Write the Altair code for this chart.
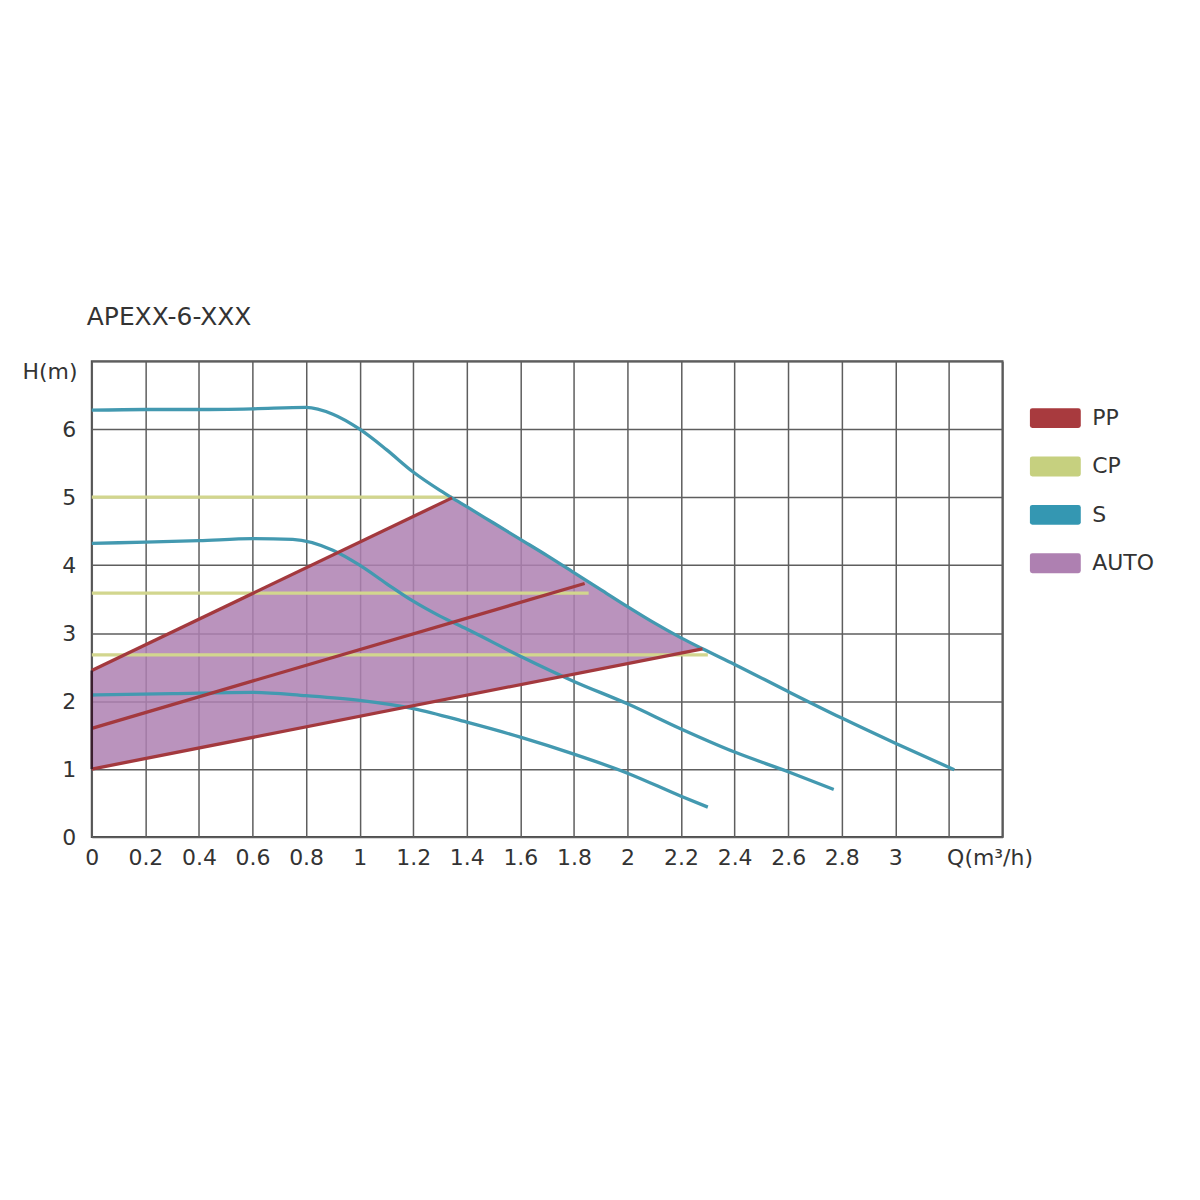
import altair as alt
import pandas as pd

TITLE = "APEXX-6-XXX"
TYPES = ["PP", "CP", "S", "AUTO"]
LINE_COLORS = ["#a3393e", "#d2d68e", "#4399b0", "#b48ab5"]
LEGEND_COLORS = ["#a83a3e", "#c6d07f", "#3497b2", "#ae80b1"]

# S (speed) curves
s_top_q = [0, 0.2, 0.4, 0.6, 0.8, 0.9, 1.0, 1.1, 1.2, 1.3, 1.345, 1.4, 1.5, 1.6, 1.7, 1.8, 1.9,
           2.0, 2.1, 2.2, 2.28, 2.4, 2.6, 2.8, 3.0, 3.22]
s_top_h = [6.28, 6.29, 6.29, 6.30, 6.32, 6.22, 6.0, 5.7, 5.37, 5.1, 4.99, 4.86, 4.62, 4.38, 4.14,
           3.89, 3.64, 3.39, 3.15, 2.93, 2.77, 2.54, 2.14, 1.75, 1.38, 0.99]
s_mid_q = [0, 0.2, 0.4, 0.6, 0.75, 0.9, 1.0, 1.1, 1.2, 1.3, 1.4, 1.6, 1.8, 2.0, 2.2, 2.4, 2.6, 2.77]
s_mid_h = [4.32, 4.34, 4.36, 4.39, 4.38, 4.22, 4.0, 3.73, 3.47, 3.25, 3.06, 2.66, 2.29, 1.96,
           1.59, 1.25, 0.96, 0.70]
s_low_q = [0, 0.3, 0.6, 0.8, 1.0, 1.2, 1.4, 1.6, 1.8, 2.0, 2.2, 2.3]
s_low_h = [2.09, 2.11, 2.13, 2.08, 2.01, 1.89, 1.69, 1.47, 1.22, 0.94, 0.60, 0.44]

# PP (proportional pressure) lines
pp_top_q = [0, 1.345]
pp_top_h = [2.45, 4.99]
pp_mid_q = [0, 1.84]
pp_mid_h = [1.6, 3.73]
pp_low_q = [0, 2.28]
pp_low_h = [1.0, 2.77]

# CP (constant pressure) lines
cp_top_q = [0, 1.345]
cp_top_h = [5.0, 5.0]
cp_mid_q = [0, 1.855]
cp_mid_h = [3.59, 3.59]
cp_low_q = [0, 2.30]
cp_low_h = [2.68, 2.68]

# AUTO region (upper edge / lower edge read at the same Q)
auto_q = [0, 1.345, 1.4, 1.5, 1.6, 1.7, 1.8, 1.9, 2.0, 2.1, 2.2, 2.28]
auto_upper = [2.45, 4.99, 4.86, 4.62, 4.38, 4.14, 3.89, 3.64, 3.39, 3.15, 2.93, 2.77]
auto_lower = [1.0, 2.04, 2.09, 2.16, 2.24, 2.32, 2.40, 2.47, 2.55, 2.63, 2.71, 2.77]

# left edge of AUTO region
edge_q = [0]
edge_h = [1.0]
edge_h2 = [2.45]

x_ticks = [0, 0.2, 0.4, 0.6, 0.8, 1, 1.2, 1.4, 1.6, 1.8, 2, 2.2, 2.4, 2.6, 2.8, 3, 3.2, 3.4]
y_ticks = [0, 1, 2, 3, 4, 5, 6, 7]

rows = []
def add(curve, typ, qs, hs):
    for i, (q, h) in enumerate(zip(qs, hs)):
        rows.append({"curve": curve, "type": typ, "Q": q, "H": h, "i": i})

add("cp_top", "CP", cp_top_q, cp_top_h)
add("cp_mid", "CP", cp_mid_q, cp_mid_h)
add("cp_low", "CP", cp_low_q, cp_low_h)
add("s_top", "S", s_top_q, s_top_h)
add("s_mid", "S", s_mid_q, s_mid_h)
add("s_low", "S", s_low_q, s_low_h)
add("pp_top", "PP", pp_top_q, pp_top_h)
add("pp_mid", "PP", pp_mid_q, pp_mid_h)
add("pp_low", "PP", pp_low_q, pp_low_h)
lines_df = pd.DataFrame(rows)

area_df = pd.DataFrame({"Q": auto_q, "H": auto_upper, "H2": auto_lower, "type": "AUTO"})
edge_df = pd.DataFrame({"Q": edge_q, "H": edge_h, "H2": edge_h2})

FONT = "DejaVu Sans"
TXT = "#333333"
GRID = "#5e5e5e"

x_enc = alt.X(
    "Q:Q",
    scale=alt.Scale(domain=[0, 3.4], nice=False, zero=True),
    axis=alt.Axis(
        values=x_ticks, format="~g",
        labelExpr="datum.value > 3.05 ? '' : datum.label",
        grid=True, gridColor=GRID, gridWidth=1.5, gridOpacity=1,
        ticks=False, domain=False, labelFlush=False, labelOverlap=False,
        labelPadding=11, labelFontSize=22, labelColor=TXT, labelFont=FONT,
        title="Q(m³/h)", titleX=857, titleY=28, titleAlign="left",
        titleBaseline="alphabetic", titleFontSize=22, titleFontWeight="normal",
        titleColor=TXT, titleFont=FONT,
    ),
)
y_enc = alt.Y(
    "H:Q",
    scale=alt.Scale(domain=[0, 7], nice=False),
    axis=alt.Axis(
        values=y_ticks,
        labelExpr="datum.value >= 7 ? '' : datum.label",
        grid=True, gridColor=GRID, gridWidth=1.5, gridOpacity=1,
        ticks=False, domain=False, labelPadding=16,
        labelFontSize=22, labelColor=TXT, labelFont=FONT,
        title="H(m)", titleAngle=0, titleX=-70, titleY=17, titleAlign="left",
        titleBaseline="alphabetic", titleFontSize=22, titleFontWeight="normal",
        titleColor=TXT, titleFont=FONT,
    ),
)

rect_path = ("M-2.3,-1 L2.3,-1 Q2.55,-1 2.55,-0.75 L2.55,0.75 Q2.55,1 2.3,1 "
             "L-2.3,1 Q-2.55,1 -2.55,0.75 L-2.55,-0.75 Q-2.55,-1 -2.3,-1 Z")

area = alt.Chart(area_df).mark_area(opacity=0.85, interpolate="linear").encode(
    x=x_enc,
    y=y_enc,
    y2="H2:Q",
    fill=alt.Fill(
        "type:N",
        scale=alt.Scale(domain=TYPES, range=LEGEND_COLORS),
        legend=alt.Legend(
            title=None, orient="none", legendX=955, legendY=46,
            symbolType=rect_path, symbolSize=400, symbolStrokeWidth=0,
            symbolOpacity=1, labelOffset=26, labelFontSize=22, labelColor=TXT,
            labelFont=FONT, rowPadding=26.5, padding=0,
        ),
    ),
)

lines = alt.Chart(lines_df).mark_line(strokeWidth=3.3, interpolate="monotone").encode(
    x=x_enc,
    y=y_enc,
    stroke=alt.Stroke("type:N", scale=alt.Scale(domain=TYPES, range=LINE_COLORS), legend=None),
    detail="curve:N",
    order="i:Q",
)

edge = alt.Chart(edge_df).mark_rule(color="#3a1f2e", strokeWidth=2.5).encode(
    x=x_enc, y=y_enc, y2="H2:Q"
)

chart = alt.layer(area, lines, edge).properties(
    width=913,
    height=477,
    padding={"left": 84, "top": 353, "right": 190, "bottom": 80},
    autosize=alt.AutoSizeParams(type="none"),
    background="white",
    title=alt.Title(TITLE, anchor="start", frame="group", fontSize=25, fontWeight="normal",
                    color=TXT, font=FONT, offset=30, dx=-5),
).configure_view(
    stroke="#4d4d4d", strokeWidth=2
)

chart.save("out.html", embed_options={"renderer": "svg", "actions": False})
